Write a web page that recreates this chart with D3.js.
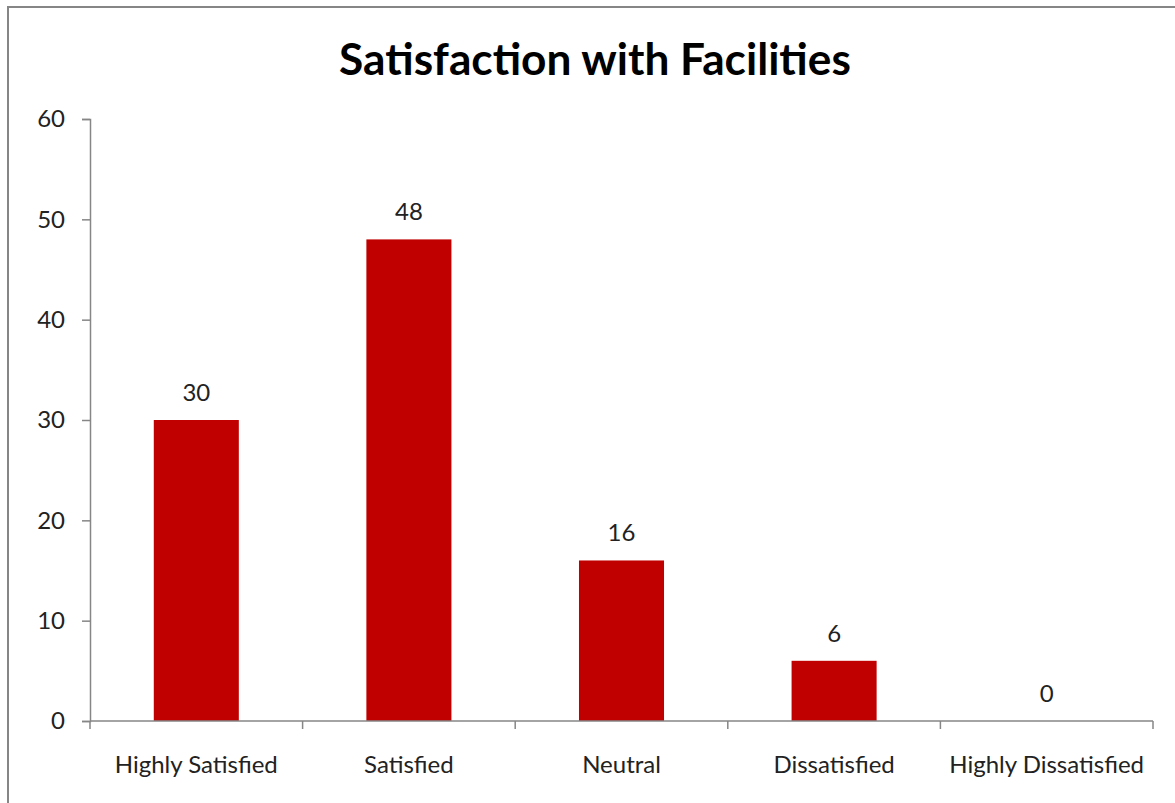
<!DOCTYPE html>
<html><head><meta charset="utf-8">
<script src="https://cdn.jsdelivr.net/npm/d3@7"></script>
<style>body{margin:0;background:#fff;} text{font-family:Lato, "Open Sans", sans-serif;}</style>
</head><body>
<svg id="c" width="1175" height="803"></svg>
<script>
const categories = ["Highly Satisfied","Satisfied","Neutral","Dissatisfied","Highly Dissatisfied"];
const values = [30,48,16,6,0];
const yTicks = [0,10,20,30,40,50,60];
const title = "Satisfaction with Facilities";

const svg = d3.select("#c");
svg.append("rect").attr("x",8).attr("y",7).attr("width",1300).attr("height",1000)
  .attr("fill","#fff").attr("stroke","#868686").attr("stroke-width",2);

const m = {left:90, right:1153, top:119, bottom:721};
const x = d3.scaleBand().domain(categories).range([m.left,m.right]).padding(0);
const y = d3.scaleLinear().domain([0,60]).range([m.bottom,m.top]);

const t = svg.append("text").attr("x",(339+851)/2).attr("y",75).attr("text-anchor","middle")
  .attr("font-weight","bold").attr("font-size",40).attr("fill","#000").text(title);
const tw = t.node().getComputedTextLength();
t.attr("font-size",40*512/tw);

// y axis
const ya = svg.append("g").attr("transform",`translate(${m.left},0)`)
  .call(d3.axisLeft(y).tickValues(yTicks).tickSize(8).tickPadding(17));
ya.select(".domain").attr("stroke","#868686").attr("stroke-width",1.5);
ya.selectAll(".tick line").attr("stroke","#868686").attr("stroke-width",1.5);
ya.selectAll(".tick text").attr("font-size",24).attr("fill","#222").style("font-family","Lato");

// bars
const bw = x.bandwidth()*0.4;
svg.selectAll("rect.bar").data(values).enter().append("rect").attr("class","bar")
  .attr("x",(d,i)=>x(categories[i])+x.bandwidth()/2-bw/2)
  .attr("y",d=>y(d)).attr("width",bw).attr("height",d=>y(0)-y(d)).attr("fill","#C00000");

svg.selectAll("text.val").data(values).enter().append("text").attr("class","val")
  .attr("x",(d,i)=>x(categories[i])+x.bandwidth()/2).attr("y",d=>y(d)-19)
  .attr("text-anchor","middle").attr("font-size",24).attr("fill","#222").text(d=>d);

// x axis
svg.selectAll("text.cat").data(categories).enter().append("text").attr("class","cat")
  .attr("x",d=>x(d)+x.bandwidth()/2).attr("y",m.bottom+52)
  .attr("text-anchor","middle").attr("font-size",24).attr("fill","#222").text(d=>d);
svg.append("line").attr("x1",m.left).attr("x2",m.right).attr("y1",m.bottom).attr("y2",m.bottom)
  .attr("stroke","#868686").attr("stroke-width",1.5);
const edges = categories.map(c=>x(c)).concat([m.right]);
svg.selectAll("line.xt").data(edges).enter().append("line").attr("class","xt")
  .attr("x1",d=>d).attr("x2",d=>d).attr("y1",m.bottom).attr("y2",m.bottom+8)
  .attr("stroke","#868686").attr("stroke-width",1.5);
</script>
</body></html>
